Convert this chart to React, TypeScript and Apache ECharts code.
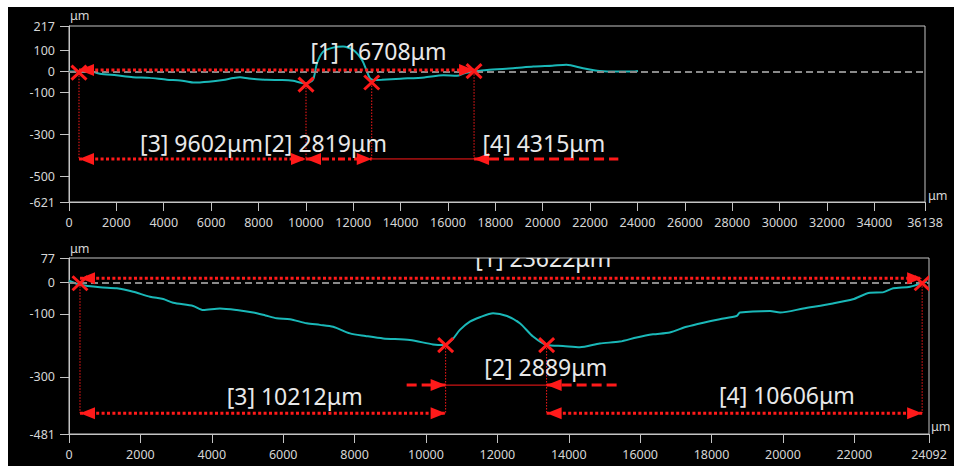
import React, { useEffect, useRef } from 'react';
import * as echarts from 'echarts';

// ---------- data ----------
const topProfileX = [0, 400, 760, 1300, 2000, 2700, 3400, 4130, 4700, 5240, 5900, 6500, 6930, 7220, 7600, 8350, 9000, 9460, 9750, 10000, 10300, 10470, 10730, 11150, 11570, 12000, 12370, 12580, 12700, 12850, 13200, 14000, 15000, 15800, 16380, 16700, 17100, 17650, 18750, 19600, 20400, 21000, 21700, 22400, 23200, 23800, 24020];
const topProfileY = [0, 2, 5, -10, -18, -27, -30, -39, -42, -52, -48, -40, -31, -27, -33, -39, -40, -44, -52, -56, -39, 40, 95, 114, 119, 103, 55, 0, -31, -40, -39, -34, -28, -18, -20, -8, 0, 8, 16, 24, 28, 32, 16, 3, 0, 0, 3];

const botProfileX = [0, 308, 868, 1340, 1800, 2270, 2640, 2920, 3480, 3760, 4230, 4700, 5160, 5500, 5820, 6190, 6660, 7030, 7400, 7870, 8300, 8800, 9550, 10200, 10530, 10750, 10950, 11230, 11510, 11880, 12270, 12630, 13000, 13390, 13840, 14310, 14870, 15430, 15900, 16360, 16830, 17300, 17770, 18230, 18700, 18800, 19640, 19920, 20570, 21400, 21960, 22440, 22800, 23090, 23560, 24030];
const botProfileY = [5, -8, -16, -19, -30, -46, -53, -65, -75, -88, -83, -88, -96, -105, -114, -117, -130, -135, -141, -162, -170, -178, -183, -197, -199, -180, -151, -125, -111, -98, -107, -130, -172, -199, -202, -206, -194, -188, -175, -165, -159, -141, -128, -117, -107, -96, -91, -96, -83, -67, -54, -33, -32, -19, -14, 2];

const topXTicks = [0, 2000, 4000, 6000, 8000, 10000, 12000, 14000, 16000, 18000, 20000, 22000, 24000, 26000, 28000, 30000, 32000, 34000, 36138];
const topYTicks = [217, 100, 0, -100, -300, -500, -621];
const botXTicks = [0, 2000, 4000, 6000, 8000, 10000, 12000, 14000, 16000, 18000, 20000, 22000, 24092];
const botYTicks = [77, 0, -100, -300, -481];

const topMarkers: [number, number][] = [[422, -5], [10006, -62], [12780, -52], [17100, 2]];
const botMarkers: [number, number][] = [[308, -3], [10551, -199], [13380, -199], [23900, -3]];
const topDropY = -416;
const botDropY = -415;

type Seg = { from: number; to: number; y: number; kind: string; a0: boolean; a1: boolean };
const topSegments: Seg[] = [
  { from: 422, to: 17100, y: 8, kind: 'dot', a0: true, a1: true },
  { from: 422, to: 10006, y: -416, kind: 'dot', a0: true, a1: true },
  { from: 10006, to: 12780, y: -416, kind: 'dashdot', a0: true, a1: true },
  { from: 12780, to: 17100, y: -416, kind: 'thin', a0: false, a1: false },
  { from: 17100, to: 23191, y: -416, kind: 'dash', a0: true, a1: false },
];
const botSegments: Seg[] = [
  { from: 308, to: 23900, y: 13, kind: 'dot', a0: true, a1: true },
  { from: 308, to: 10551, y: -415, kind: 'dot', a0: true, a1: true },
  { from: 13380, to: 23900, y: -415, kind: 'dot', a0: true, a1: true },
  { from: 9459, to: 10551, y: -326, kind: 'dash', a0: false, a1: true },
  { from: 10551, to: 13380, y: -326, kind: 'thin', a0: false, a1: false },
  { from: 13380, to: 15434, y: -326, kind: 'dash', a0: true, a1: false },
];

type Lbl = { text: string; x: number; y: number };
const topLabels: Lbl[] = [
  { text: '[1] 16708μm', x: 13067, y: 99 },
  { text: '[3] 9602μm', x: 5594, y: -340 },
  { text: '[2] 2819μm', x: 10830, y: -340 },
  { text: '[4] 4315μm', x: 20047, y: -340 },
];
const botLabels: Lbl[] = [
  { text: '[1] 23622μm', x: 13286, y: 76 },
  { text: '[3] 10212μm', x: 6322, y: -360 },
  { text: '[2] 2889μm', x: 13356, y: -268 },
  { text: '[4] 10606μm', x: 20111, y: -357 },
];

// ---------- styles ----------
const RED = '#ff1a1a';
const CYAN = '#1ab8b8';
const AXIS = '#c4c4c4';
const TICKTXT = '#d6d6d6';
const FONT = 'Noto Sans';
const segStyles: Record<string, { w: number; dash: number[] | null }> = {
  dot: { w: 3, dash: [3, 2.4] },
  dash: { w: 3, dash: [10, 5] },
  dashdot: { w: 3, dash: [7, 3, 3, 3] },
  thin: { w: 1, dash: null },
};

function makeRender(markers: [number, number][], segs: Seg[], labels: Lbl[], dropY: number) {
  return (_params: any, api: any) => {
    const children: any[] = [];
    markers.forEach(([mx, my]) => {
      const p1 = api.coord([mx, my]);
      const p2 = api.coord([mx, dropY]);
      children.push({
        type: 'line',
        shape: { x1: p1[0], y1: p1[1], x2: p2[0], y2: p2[1] },
        style: { stroke: RED, lineWidth: 1, lineDash: [1.5, 1.5] },
      });
    });
    const arrow = (tx: number, ty: number, dir: number) => ({
      type: 'polygon',
      shape: { points: [[tx, ty], [tx - 15 * dir, ty - 6], [tx - 15 * dir, ty + 6]] },
      style: { fill: RED },
    });
    segs.forEach((s) => {
      const a = api.coord([s.from, s.y]);
      const b = api.coord([s.to, s.y]);
      const st = segStyles[s.kind];
      children.push({
        type: 'line',
        shape: { x1: a[0], y1: a[1], x2: b[0], y2: b[1] },
        style: { stroke: RED, lineWidth: st.w, lineDash: st.dash || undefined },
      });
      if (s.a0) children.push(arrow(a[0], a[1], -1));
      if (s.a1) children.push(arrow(b[0], b[1], 1));
    });
    markers.forEach(([mx, my]) => {
      const p = api.coord([mx, my]);
      const hx = 7.5, hy = 7;
      children.push({
        type: 'line',
        shape: { x1: p[0] - hx, y1: p[1] - hy, x2: p[0] + hx, y2: p[1] + hy },
        style: { stroke: RED, lineWidth: 3 },
      });
      children.push({
        type: 'line',
        shape: { x1: p[0] - hx, y1: p[1] + hy, x2: p[0] + hx, y2: p[1] - hy },
        style: { stroke: RED, lineWidth: 3 },
      });
    });
    labels.forEach((l) => {
      const p = api.coord([l.x, l.y]);
      children.push({
        type: 'text',
        style: {
          text: l.text, x: p[0], y: p[1], fill: '#e8e8e8', fontSize: 23, fontFamily: FONT,
          align: 'center', verticalAlign: 'middle',
        },
      });
    });
    return { type: 'group', children };
  };
}

const plain = (v: number) => String(v);

function xAxisCfg(grid: number, max: number, ticks: number[]) {
  return {
    type: 'value', gridIndex: grid, min: 0, max,
    axisLine: { show: true, onZero: false, lineStyle: { color: AXIS, width: 1 } },
    axisTick: { show: true, length: 9, customValues: ticks, lineStyle: { color: AXIS } },
    axisLabel: { customValues: ticks, formatter: plain, color: TICKTXT, fontSize: 12.5, fontFamily: FONT, margin: 14 },
    splitLine: { show: false },
  };
}
function yAxisCfg(grid: number, min: number, max: number, ticks: number[]) {
  return {
    type: 'value', gridIndex: grid, min, max,
    axisLine: { show: true, onZero: false, lineStyle: { color: AXIS, width: 1 } },
    axisTick: { show: true, length: 9, customValues: ticks, lineStyle: { color: AXIS } },
    axisLabel: { customValues: ticks, formatter: plain, color: TICKTXT, fontSize: 12.5, fontFamily: FONT, margin: 14 },
    splitLine: { show: false },
  };
}

export default function App() {
  const ref = useRef<HTMLDivElement>(null);
  useEffect(() => {
    if (!ref.current) return;
    const chart = echarts.init(ref.current, null, { renderer: 'svg' });
    const zeroLine = {
      silent: true, symbol: 'none', label: { show: false },
      lineStyle: { color: '#8a8a8a', type: [7, 4], width: 2 },
      data: [{ yAxis: 0 }],
    };
    const unitText = (x: number, y: number) => ({
      type: 'text', x, y,
      style: { text: 'μm', fill: TICKTXT, fontSize: 12.5, fontFamily: FONT, align: 'left', verticalAlign: 'middle' },
    });
    chart.setOption({
      animation: false,
      backgroundColor: '#000',
      grid: [
        { left: 61, top: 19, width: 856, height: 176, show: true, borderColor: AXIS, borderWidth: 1, backgroundColor: 'transparent', outerBoundsMode: 'none' },
        { left: 61, top: 251, width: 860, height: 176, show: true, borderColor: AXIS, borderWidth: 1, backgroundColor: 'transparent', outerBoundsMode: 'none' },
      ],
      xAxis: [xAxisCfg(0, 36138, topXTicks), xAxisCfg(1, 24092, botXTicks)],
      yAxis: [yAxisCfg(0, -621, 217, topYTicks), yAxisCfg(1, -481, 77, botYTicks)],
      series: [
        {
          type: 'line', xAxisIndex: 0, yAxisIndex: 0, showSymbol: false, smooth: 0.25,
          data: topProfileX.map((x, i) => [x, topProfileY[i]]),
          lineStyle: { color: CYAN, width: 2 }, markLine: zeroLine, z: 2,
        },
        {
          type: 'line', xAxisIndex: 1, yAxisIndex: 1, showSymbol: false, smooth: 0.25,
          data: botProfileX.map((x, i) => [x, botProfileY[i]]),
          lineStyle: { color: CYAN, width: 2 }, markLine: zeroLine, z: 2,
        },
        {
          type: 'custom', xAxisIndex: 0, yAxisIndex: 0, clip: true, z: 5, silent: true,
          data: [[0, 0]], renderItem: makeRender(topMarkers, topSegments, topLabels, topDropY),
        },
        {
          type: 'custom', xAxisIndex: 1, yAxisIndex: 1, clip: true, z: 5, silent: true,
          data: [[0, 0]], renderItem: makeRender(botMarkers, botSegments, botLabels, botDropY),
        },
      ],
      graphic: [
        unitText(62, 8),
        unitText(920, 188),
        unitText(62, 241),
        unitText(923, 419),
      ],
    });
    return () => chart.dispose();
  }, []);
  return (
    <div
      ref={ref}
      style={{ position: 'fixed', left: 8, top: 7, width: 946, height: 459, background: '#000' }}
    />
  );
}
